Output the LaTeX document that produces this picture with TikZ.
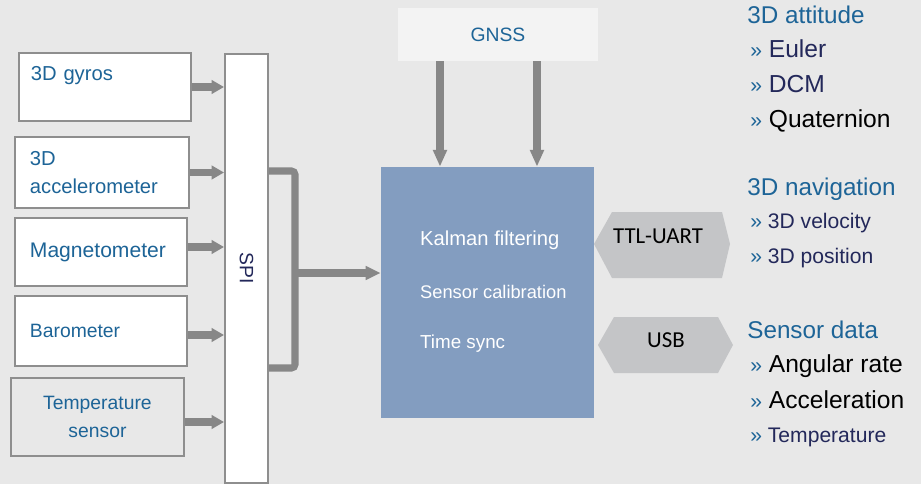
\documentclass[tikz,border=0pt]{standalone}
\usepackage{fontspec}
\setmainfont{Liberation Sans}
\newfontfamily\calfont{Carlito}
\usetikzlibrary{positioning,arrows.meta}

\definecolor{bgc}{HTML}{E8E8E8}
\definecolor{boxc}{HTML}{8E8E8E}
\definecolor{busc}{HTML}{878787}
\definecolor{bluetxt}{HTML}{1D6497}
\definecolor{navytxt}{HTML}{23285A}
\definecolor{kalc}{HTML}{839DC0}
\definecolor{portc}{HTML}{C4C5C7}
\definecolor{gnssc}{HTML}{F3F3F3}

\newcommand\chev{{\color{bluetxt}\fontsize{12}{14}\selectfont»}\ }

\begin{document}
\begin{tikzpicture}[
  x=0.02cm, y=-0.02cm,
  sensor/.style={draw=boxc, line width=1.1pt, fill=white, anchor=west, text width=2.84cm,
    inner xsep=0.3cm, align=left, text=bluetxt, font=\fontsize{11.5}{15.5}\selectfont},
  bus/.style={draw=busc, line width=4pt},
  busarrow/.style={bus, -{Triangle[length=7pt, width=7.5pt]}},
  gnssarrow/.style={draw=busc, line width=5pt, -{Triangle[length=9.5pt, width=7.5pt]}},
  ktxt/.style={anchor=west, text=white, font=\fontsize{#1}{13}\selectfont},
  port/.style={fill=portc},
  porttxt/.style={font=\calfont\fontsize{13}{15}\selectfont},
  head/.style={anchor=base west, text=bluetxt, inner sep=0pt, font=\fontsize{13.8}{16}\selectfont},
  item/.style={anchor=base west, inner sep=0pt, font=\fontsize{#1}{16}\selectfont},
  item/.default=14
]
  \path[use as bounding box, fill=bgc] (0,0) rectangle (921,484);

  % sensors
  \node[sensor, minimum height=1.36cm, inner xsep=0.24cm, text width=2.96cm] (gyro) at (18,87) {3D gyros\\\mbox{}};
  \node[sensor, minimum height=1.42cm, text width=2.88cm] (accel) at (14,172.5) {3D\\accelerometer};
  \node[sensor, minimum height=1.36cm] (magn) at (14,252) {\fontsize{12}{14}\selectfont Magnetometer};
  \node[sensor, minimum height=1.4cm] (baro) at (14,331) {\fontsize{11}{13}\selectfont Barometer};
  \node[sensor, minimum height=1.56cm, fill=bgc, align=center, text width=2.86cm,
    font=\fontsize{11}{15.8}\selectfont] (temp) at (10,417) {Temperature\\sensor};

  % SPI bus
  \node[draw=boxc, line width=1.1pt, fill=white, minimum width=0.86cm, minimum height=8.58cm,
    text=navytxt, font=\fontsize{11}{13}\selectfont] (spi) at (246.5,268.5) {\rotatebox{-90}{SPI}};

  \draw[busarrow] (gyro.east) -- (gyro.east -| spi.west);
  \draw[busarrow] (accel.east) -- (accel.east -| spi.west);
  \draw[busarrow] ([yshift=0.1cm]magn.east) -- ([yshift=0.1cm]magn.east -| spi.west);
  \draw[busarrow] ([yshift=-0.08cm]baro.east) -- ([yshift=-0.08cm]baro.east -| spi.west);
  \draw[busarrow] ([yshift=-0.1cm]temp.east) -- ([yshift=-0.1cm]temp.east -| spi.west);

  % processor
  \node[fill=kalc, minimum width=4.26cm, minimum height=5.02cm] (kal) at (487.5,292.5) {};
  \node[ktxt=11.5] (kf) at (414,240) {Kalman filtering};
  \node[ktxt=10.4] (sc) at (414,292) {Sensor calibration};
  \node[ktxt=10.7] (ts) at (414,344) {Time sync};

  \coordinate (busT) at (295,171);
  \coordinate (busB) at (295,368);
  \coordinate (busM) at (295,273);
  \draw[bus, rounded corners=2pt] (busT -| spi.east) -- (busT) -- (busB) -- (busB -| spi.east);
  \draw[busarrow, -{Triangle[length=8.5pt, width=7.5pt]}] (busM) -- (busM -| kal.west);

  % GNSS
  \node[fill=gnssc, minimum width=4cm, minimum height=1.06cm, text=bluetxt,
    font=\fontsize{11}{13}\selectfont] (gnss) at (498,34.5) {GNSS};
  \coordinate (ga) at (440,0);
  \coordinate (gb) at (537,0);
  \draw[gnssarrow] (ga |- gnss.south) -- (ga |- kal.north);
  \draw[gnssarrow] (gb |- gnss.south) -- (gb |- kal.north);

  % ports
  \fill[port] (594,244) -- (612,212) -- (722,212) -- (730,244) -- (722,278) -- (612,278) -- cycle;
  \node[porttxt] (ttl) at (658,236) {TTL-UART};
  \fill[port] (598,345) -- (614,317) -- (718,317) -- (733,345) -- (718,373) -- (614,373) -- cycle;
  \node[porttxt] (usb) at (666,340) {USB};

  % outputs
  \node[head] (att) at (747,23) {3D attitude};
  \node[item, text=navytxt] (euler) at (750,57) {\chev Euler};
  \node[item, text=navytxt] (dcm) at (750,92) {\chev DCM};
  \node[item, text=black] (quat) at (750,127) {\chev Quaternion};

  \node[head] (nav) at (747,195) {3D navigation};
  \node[item=12, text=navytxt] (vel) at (750,228) {\chev 3D velocity};
  \node[item=12, text=navytxt] (pos) at (750,263) {\chev 3D position};

  \node[head] (sdat) at (747,338) {Sensor data};
  \node[item, text=black] (rate) at (750,372) {\chev Angular rate};
  \node[item, text=black] (acc) at (750,408) {\chev Acceleration};
  \node[item=12, text=navytxt] (tmp) at (750,442) {\chev Temperature};
\end{tikzpicture}
\end{document}
